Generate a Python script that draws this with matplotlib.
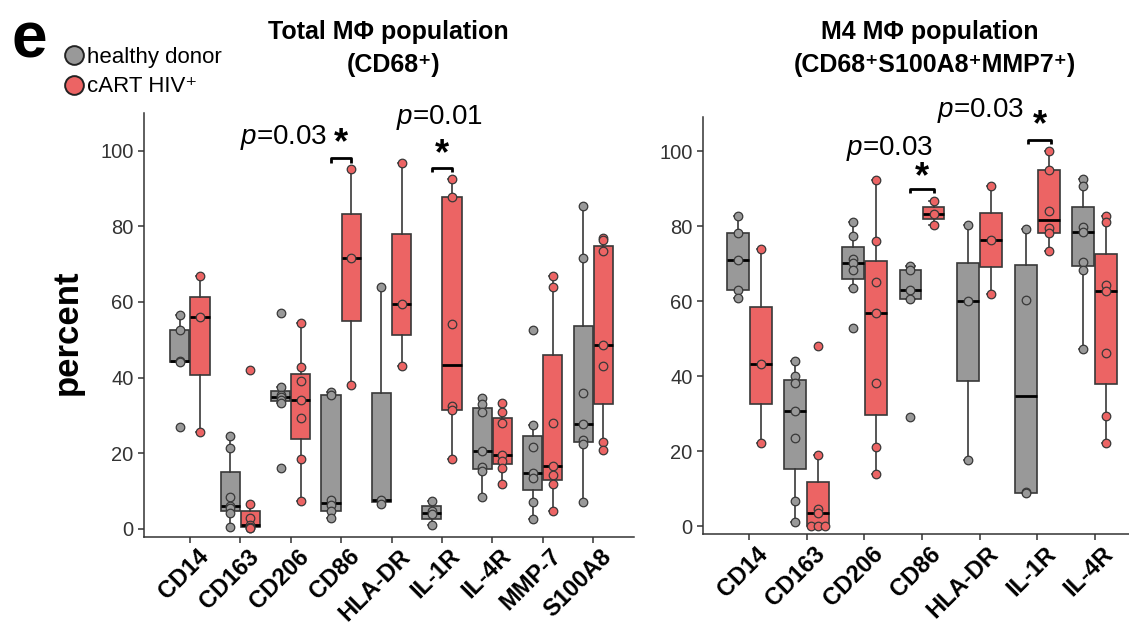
import numpy as np
import matplotlib.pyplot as plt
from matplotlib.lines import Line2D
import matplotlib.transforms as mtransforms

plt.rcParams['font.family'] = ['Liberation Sans', 'DejaVu Sans']
plt.rcParams['mathtext.fontset'] = 'custom'
plt.rcParams['mathtext.rm'] = 'Liberation Sans'
plt.rcParams['mathtext.it'] = 'Liberation Sans:italic'

# ---- data (percent of cells) ----
total_markers = ['CD14', 'CD163', 'CD206', 'CD86', 'HLA-DR', 'IL-1R', 'IL-4R', 'MMP-7', 'S100A8']
total_healthy = [
    [56.5, 52.5, 44.5, 44.0, 27.0],
    [24.6, 21.5, 8.5, 6.1, 5.5, 4.2, 0.4],
    [57.0, 37.5, 35.5, 34.8, 34.0, 33.4, 16.0],
    [36.1, 35.4, 7.6, 6.3, 4.8, 3.0],
    [64.0, 7.7, 6.5],
    [7.4, 4.7, 3.9, 1.1],
    [34.6, 32.9, 31.0, 20.6, 16.3, 15.2, 8.4],
    [52.5, 27.4, 21.7, 14.7, 13.4, 7.0, 2.6],
    [85.3, 71.6, 35.8, 27.7, 23.5, 22.4, 7.0],
]
total_hiv = [
    [66.8, 56.0, 25.6],
    [42.0, 6.6, 3.0, 1.0, 0.5, 0.3, 0.2],
    [54.5, 42.8, 39.0, 34.0, 29.2, 18.5, 7.4],
    [95.0, 71.7, 38.0],
    [96.6, 59.4, 43.1],
    [92.4, 87.7, 54.1, 32.5, 31.4, 18.5],
    [33.2, 30.8, 28.0, 19.5, 17.9, 16.2, 11.8],
    [66.8, 63.9, 27.9, 16.7, 14.2, 11.9, 4.8],
    [76.9, 76.4, 73.4, 48.5, 43.1, 23.0, 20.8],
]

m4_markers = ['CD14', 'CD163', 'CD206', 'CD86', 'HLA-DR', 'IL-1R', 'IL-4R']
m4_healthy = [
    [82.9, 78.2, 70.9, 63.1, 61.0],
    [44.0, 40.0, 38.2, 30.8, 23.6, 6.8, 1.0],
    [81.2, 77.4, 71.4, 70.2, 68.3, 63.6, 52.8],
    [69.3, 68.3, 63.1, 60.7, 29.2],
    [80.3, 60.0, 17.6],
    [79.2, 60.3, 9.0, 8.8],
    [92.6, 90.7, 79.8, 78.5, 70.5, 68.3, 47.3],
]
m4_hiv = [
    [74.0, 43.2, 22.2],
    [48.0, 18.9, 4.7, 3.4, 0.0, 0.0, 0.0],
    [92.4, 76.1, 65.2, 56.9, 38.2, 21.2, 13.8],
    [86.9, 83.4, 80.5],
    [90.8, 76.3, 62.0],
    [100.1, 95.1, 84.1, 79.5, 78.2, 73.4],
    [82.7, 81.2, 64.3, 62.8, 46.3, 29.4, 22.3],
]

# significant comparisons: (marker, p-value label)
total_sig = [('CD86', '0.03'), ('IL-1R', '0.01')]
m4_sig = [('CD86', '0.03'), ('IL-1R', '0.03')]

GRAY = '#999999'
RED = '#EC6464'
EDGE = '#383838'
TXT = '#333333'


def tukey_stats(vals):
    x = np.sort(np.asarray(vals, float))
    n = len(x)
    n4 = np.floor((n + 3) / 2) / 2
    d = np.array([1, n4, (n + 1) / 2, n + 1 - n4, n]) - 1
    q = 0.5 * (x[np.floor(d).astype(int)] + x[np.ceil(d).astype(int)])
    iqr = q[3] - q[1]
    lo = x[x >= q[1] - 1.5 * iqr].min()
    hi = x[x <= q[3] + 1.5 * iqr].max()
    return dict(med=q[2], q1=q[1], q3=q[3], whislo=lo, whishi=hi, fliers=[])


def draw_group(ax, groups, offset, color):
    pos = np.arange(len(groups)) + offset
    stats = [tukey_stats(g) for g in groups]
    ax.bxp(stats, positions=pos, widths=0.38, patch_artist=True, showfliers=False,
           capwidths=0.14,
           boxprops=dict(facecolor=color, edgecolor=EDGE, linewidth=1.2),
           whiskerprops=dict(color=EDGE, linewidth=1.2),
           capprops=dict(color=EDGE, linewidth=1.2),
           medianprops=dict(color='black', linewidth=2))
    for p, g in zip(pos, groups):
        g = np.asarray(g, float)
        xs = np.full(len(g), p)
        for v in np.unique(g):
            idx = np.where(g == v)[0]
            k = len(idx)
            if k > 1:
                xs[idx] = p + (np.arange(k) - (k - 1) / 2) * 0.12
        ax.scatter(xs, g, s=38, color=color, edgecolor=EDGE, linewidth=0.9, zorder=5)


def style(ax, labels, ylim, xlim):
    ax.set_xlim(*xlim)
    ax.set_ylim(*ylim)
    for s in ['top', 'right']:
        ax.spines[s].set_visible(False)
    for s in ['left', 'bottom']:
        ax.spines[s].set_color(TXT)
        ax.spines[s].set_linewidth(1.1)
    ax.set_yticks([0, 20, 40, 60, 80, 100])
    ax.set_xticks(np.arange(len(labels)))
    ax.set_xticklabels(labels, rotation=45, ha='right', va='top', rotation_mode='anchor',
                       fontsize=17, fontweight='bold', color='black')
    ax.tick_params(axis='both', direction='out', length=4, width=1.1, color=TXT)
    ax.tick_params(axis='x', pad=2)
    ax.tick_params(axis='y', labelsize=14.5, labelcolor=TXT)
    shift = mtransforms.ScaledTranslation(5 / 72, 0, ax.figure.dpi_scale_trans)
    for lab in ax.get_xticklabels():
        lab.set_transform(lab.get_transform() + shift)


def annotate(ax, x, y_br, y_star, p_xy, ptxt):
    ax.plot([x - 0.2, x - 0.2, x + 0.2, x + 0.2], [y_br - 1.2, y_br, y_br, y_br - 1.2],
            color='black', lw=2, clip_on=False, solid_capstyle='butt')
    ax.text(x, y_star, '*', ha='center', va='center', fontsize=26, fontweight='bold', clip_on=False)
    ax.text(p_xy[0], p_xy[1], '$p$=' + ptxt, ha='center', va='center', fontsize=20, clip_on=False)


fig = plt.figure(figsize=(11.29, 6.25), dpi=100)
W, H = 1129, 625

ax1 = fig.add_axes([144 / W, 1 - 536.5 / H, 490 / W, (536.5 - 112.7) / H])
draw_group(ax1, total_healthy, -0.2, GRAY)
draw_group(ax1, total_hiv, 0.2, RED)
style(ax1, total_markers, (-2, 110), (-0.91, 8.81))

ax2 = fig.add_axes([703 / W, 1 - 534 / H, 438 / W, 417 / H])
draw_group(ax2, m4_healthy, -0.2, GRAY)
draw_group(ax2, m4_hiv, 0.2, RED)
style(ax2, m4_markers, (-2.1, 109.2), (-0.8, 6.8))

# significance marks
i = total_markers.index(total_sig[0][0])
annotate(ax1, i, 97.9, 101.8, (1.86, 103.5), total_sig[0][1])
i = total_markers.index(total_sig[1][0])
annotate(ax1, i, 95.4, 98.8, (4.96, 108.8), total_sig[1][1])
i = m4_markers.index(m4_sig[0][0])
annotate(ax2, i, 90.0, 92.9, (2.43, 100.8), m4_sig[0][1])
i = m4_markers.index(m4_sig[1][0])
annotate(ax2, i + 0.04, 103.1, 107.0, (4.02, 110.9), m4_sig[1][1])

# titles
fig.text(388 / W, 1 - 32 / H, 'Total MΦ population', ha='center', va='center',
         fontsize=18, fontweight='bold')
fig.text(394 / W, 1 - 65 / H, '(CD68⁺)', ha='center', va='center',
         fontsize=18, fontweight='bold')
fig.text(930 / W, 1 - 32 / H, 'M4 MΦ population', ha='center', va='center',
         fontsize=18, fontweight='bold')
fig.text(935 / W, 1 - 65 / H, '(CD68⁺S100A8⁺MMP7⁺)', ha='center', va='center',
         fontsize=18, fontweight='bold')

fig.text(67 / W, 1 - 332 / H, 'percent', rotation=90, ha='center', va='center',
         fontsize=25, fontweight='bold')
fig.text(12 / W, 1 - 57 / H, 'e', ha='left', va='baseline', fontsize=46, fontweight='bold')

handles = [Line2D([], [], marker='o', ls='none', markersize=13.5, markerfacecolor=c,
                  markeredgecolor='#222222', markeredgewidth=1.4) for c in (GRAY, RED)]
fig.legend(handles, ['healthy donor', 'cART HIV⁺'], loc='upper left',
           bbox_to_anchor=(64 / W, 1 - 47 / H), frameon=False, fontsize=16,
           handlelength=0.9, handletextpad=0.15, labelspacing=0.38,
           borderpad=0, borderaxespad=0)

fig.savefig('out.png', dpi=100)
